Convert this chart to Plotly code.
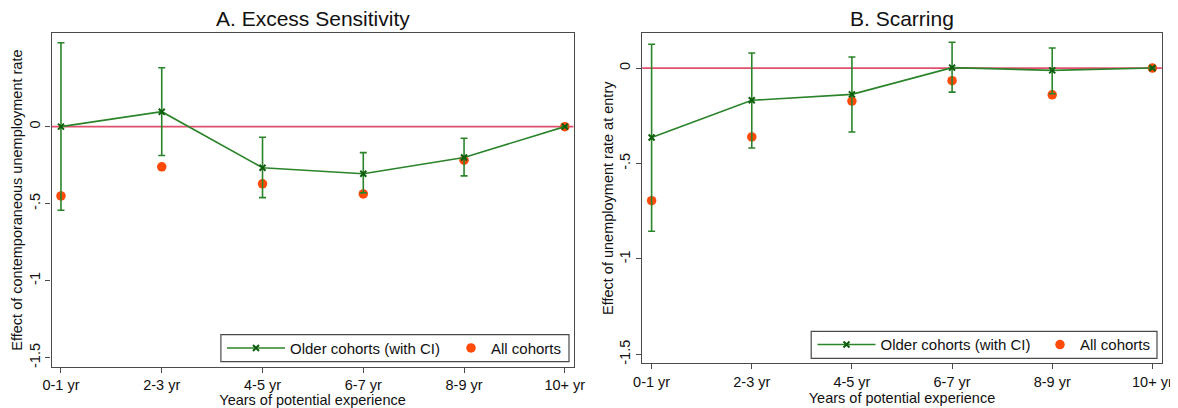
import plotly.graph_objects as go

# ---- data ----
categories = ["0-1 yr", "2-3 yr", "4-5 yr", "6-7 yr", "8-9 yr", "10+ yr"]

a_older = [0.0, 0.097, -0.267, -0.306, -0.200, 0.0]
a_ci_hi = [0.545, 0.382, -0.069, -0.169, -0.075, None]
a_ci_lo = [-0.543, -0.187, -0.461, -0.43, -0.32, None]
a_all = [-0.45, -0.261, -0.371, -0.437, -0.218, 0.0]

b_older = [-0.364, -0.169, -0.138, 0.002, -0.012, 0.0]
b_ci_hi = [0.125, 0.079, 0.058, 0.135, 0.105, None]
b_ci_lo = [-0.855, -0.419, -0.335, -0.126, -0.135, None]
b_all = [-0.695, -0.361, -0.173, -0.066, -0.14, 0.0]

y_tickvals = [-1.5, -1, -0.5, 0]
y_ticktext = ["-1.5", "-1", "-.5", "0"]

titles = ["A. Excess Sensitivity", "B. Scarring"]
y_titles = ["Effect of contemporaneous unemployment rate",
            "Effect of unemployment rate at entry"]
x_title = "Years of potential experience"
name_older = "Older cohorts (with CI)"
name_all = "All cohorts"

# ---- style / geometry ----
# the page body has an 8px margin, so the figure is drawn 8px in from the window corner
OFF = 8
W, H = 1178 - OFF, 408 - OFF
FONT = "Liberation Sans, Arial, Helvetica, sans-serif"
GREEN = "#2a842a"
XMARK = "#0d5e0d"
ORANGE = "#ff4a0a"
ZERO = "#e0506e"
FRAME = "#4a4a4a"


def fx(px):
    return (px - OFF) / W


def fy(py):
    return 1 - (py - OFF) / H


def err(hi, lo, mid):
    plus = [None if h is None else h - m for h, m in zip(hi, mid)]
    minus = [None if l is None else m - l for l, m in zip(lo, mid)]
    return plus, minus


fig = go.Figure()

panels = [
    dict(older=a_older, hi=a_ci_hi, lo=a_ci_lo, all=a_all, xa="x", ya="y",
         lg1="legend", lg2="legend2"),
    dict(older=b_older, hi=b_ci_hi, lo=b_ci_lo, all=b_all, xa="x2", ya="y2",
         lg1="legend3", lg2="legend4"),
]

for p in panels:
    plus, minus = err(p["hi"], p["lo"], p["older"])
    fig.add_trace(go.Scatter(
        x=categories, y=p["all"], mode="markers", name=name_all,
        marker=dict(color=ORANGE, size=9.5, symbol="circle", line=dict(width=0)),
        xaxis=p["xa"], yaxis=p["ya"], legend=p["lg2"], showlegend=True))
    fig.add_trace(go.Scatter(
        x=categories, y=p["older"], mode="lines+markers", name=name_older,
        line=dict(color=GREEN, width=1.6),
        marker=dict(color=XMARK, size=6, symbol="x-thin",
                    line=dict(width=2, color=XMARK)),
        error_y=dict(type="data", array=plus, arrayminus=minus, symmetric=False,
                     color=GREEN, thickness=1.6, width=3.5),
        xaxis=p["xa"], yaxis=p["ya"], legend=p["lg1"], showlegend=True))

# zero reference lines
for xa, ya in [("x", "y"), ("x2", "y2")]:
    fig.add_shape(type="line", xref=f"{xa} domain", yref=ya, x0=0, x1=1, y0=0, y1=0,
                  line=dict(color=ZERO, width=1.8), layer="below")

axis_common = dict(showline=True, linecolor=FRAME, linewidth=1.3, mirror=True,
                   showgrid=False, zeroline=False, ticks="outside", ticklen=5,
                   tickcolor=FRAME, tickwidth=1.2, automargin=False,
                   tickfont=dict(family=FONT, size=14.5, color="#111"))

fig.update_layout(
    template="none",
    width=W, height=H, paper_bgcolor="white", plot_bgcolor="white",
    margin=dict(l=0, r=0, t=0, b=0, autoexpand=False),
    font=dict(family=FONT, size=14.5, color="#111"),
    xaxis=dict(domain=[fx(51.6), fx(573.5)], range=[-0.093, 5.086], type="category",
               title=dict(text=x_title, standoff=2, font=dict(size=14.5)),
               anchor="y", **axis_common),
    yaxis=dict(domain=[fy(366.9), fy(33.3)], range=[-1.560, 0.606],
               tickvals=y_tickvals, ticktext=y_ticktext, tickangle=-90,
               title=dict(text=y_titles[0], standoff=0, font=dict(size=14.5)),
               anchor="x", **axis_common),
    xaxis2=dict(domain=[fx(642.2), fx(1161.8)], range=[-0.094, 5.094], type="category",
                title=dict(text=x_title, standoff=2, font=dict(size=14.5)),
                anchor="y2", **axis_common),
    yaxis2=dict(domain=[fy(363.2), fy(33.3)], range=[-1.546, 0.182],
                tickvals=y_tickvals, ticktext=y_ticktext, tickangle=-90,
                title=dict(text=y_titles[1], standoff=0, font=dict(size=14.5)),
                anchor="x2", **axis_common),
    showlegend=True,
)

leg_common = dict(orientation="h", bgcolor="rgba(0,0,0,0)", borderwidth=0,
                  font=dict(family=FONT, size=15, color="#111"),
                  xanchor="left", yanchor="middle")
fig.update_layout(
    legend=dict(x=fx(222), y=fy(348.2), itemwidth=58, **leg_common),
    legend2=dict(x=fx(451), y=fy(348.2), itemwidth=30, **leg_common),
    legend3=dict(x=fx(812.5), y=fy(344.8), itemwidth=58, **leg_common),
    legend4=dict(x=fx(1040), y=fy(344.8), itemwidth=30, **leg_common),
)

# legend frames
for x0, x1, y0, y1 in [(220.9, 569.0, 334.7, 361.7), (811.2, 1157.0, 331.3, 358.3)]:
    fig.add_shape(type="rect", xref="paper", yref="paper",
                  x0=fx(x0), x1=fx(x1), y0=fy(y1), y1=fy(y0),
                  line=dict(color=FRAME, width=1.2), fillcolor="white", layer="below")

# panel titles
for t, (l, r) in zip(titles, [(51.6, 573.5), (642.2, 1161.8)]):
    fig.add_annotation(text=t, xref="paper", yref="paper", x=fx((l + r) / 2),
                       y=fy(18.5), xanchor="center", yanchor="middle",
                       showarrow=False, font=dict(family=FONT, size=21, color="#111"))

fig.write_html("out.html")
